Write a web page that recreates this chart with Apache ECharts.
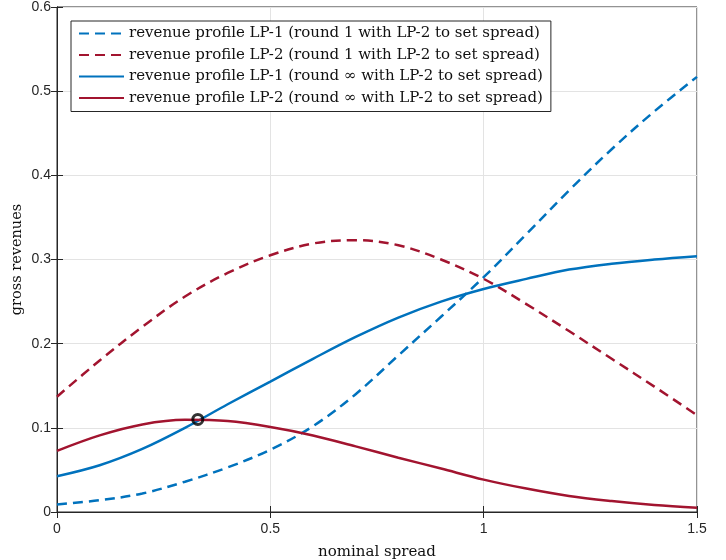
<!DOCTYPE html>
<html>
<head>
<meta charset="utf-8">
<script src="https://cdn.jsdelivr.net/npm/echarts@6/dist/echarts.min.js"></script>
<style>html,body{margin:0;padding:0;background:#fff}#c{width:726px;height:560px}</style>
</head>
<body>
<div id="c"></div>
<script>
var spread = [0, 0.1, 0.2, 0.3, 0.4, 0.5, 0.6, 0.7, 0.8, 0.9, 1.0, 1.1, 1.2, 1.3, 1.4, 1.5];
var lp1Round1 = [0.009, 0.014, 0.022, 0.036, 0.053, 0.074, 0.102, 0.140, 0.186, 0.232, 0.279, 0.330, 0.382, 0.431, 0.476, 0.517];
var lp2Round1 = [0.137, 0.180, 0.220, 0.256, 0.284, 0.305, 0.319, 0.323, 0.317, 0.300, 0.277, 0.247, 0.215, 0.182, 0.149, 0.115];
var lp1RoundInf = [0.0425, 0.0556, 0.075, 0.100, 0.128, 0.155, 0.182, 0.208, 0.231, 0.250, 0.265, 0.277, 0.288, 0.295, 0.300, 0.304];
var lp2RoundInf = [0.0726, 0.091, 0.104, 0.1095, 0.108, 0.101, 0.091, 0.078, 0.0645, 0.0516, 0.0385, 0.0278, 0.019, 0.013, 0.0083, 0.005];
var equilibrium = [0.33, 0.11];
var names = [
  'revenue profile LP-1 (round 1 with LP-2 to set spread)',
  'revenue profile LP-2 (round 1 with LP-2 to set spread)',
  'revenue profile LP-1 (round \u221E with LP-2 to set spread)',
  'revenue profile LP-2 (round \u221E with LP-2 to set spread)'
];
var xTicks = [0, 0.5, 1, 1.5];
var yTicks = [0, 0.1, 0.2, 0.3, 0.4, 0.5, 0.6];

function pairs(ys) { return spread.map(function (x, i) { return [x, ys[i]]; }); }

var BLUE = '#0072BD', RED = '#A2142F', AX = '#262626';
var serif = 'DejaVu Serif';
var sans = 'Liberation Sans';

function lineSeries(name, ys, color, dashed) {
  return {
    name: name, type: 'line', data: pairs(ys), smooth: 0.35, symbol: 'none',
    xAxisIndex: 0, yAxisIndex: 0,
    lineStyle: { color: color, width: 2.5, type: dashed ? [10, 6] : 'solid' },
    itemStyle: { color: color }, z: 3
  };
}

var chart = echarts.init(document.getElementById('c'), null, { renderer: 'canvas' });
chart.setOption({
  animation: false,
  backgroundColor: '#fff',
  grid: { left: 57, right: 29, top: 7, bottom: 48, show: true, borderColor: AX, borderWidth: 1, outerBoundsMode: 'none' },
  legend: {
    data: names, orient: 'vertical', left: 71, top: 21,
    itemWidth: 45, itemHeight: 14, itemGap: 6.5,
    padding: [5, 8, 6, 7],
    itemStyle: { opacity: 0 },
    backgroundColor: '#fff', borderColor: AX, borderWidth: 1,
    textStyle: { fontFamily: serif, fontSize: 15, color: '#111' },
    z: 10
  },
  xAxis: [{
    type: 'value', min: 0, max: 1.5, interval: 0.5,
    name: 'nominal spread', nameLocation: 'middle', nameGap: 33,
    nameTextStyle: { fontFamily: serif, fontSize: 15, color: '#111' },
    axisLine: { show: true, onZero: false, lineStyle: { color: AX, width: 1 } },
    axisTick: { show: true, inside: true, length: 6, lineStyle: { color: AX } },
    axisLabel: { fontFamily: sans, fontSize: 14, color: AX, margin: 10,
      formatter: function (v) { return xTicks.indexOf(v) >= 0 ? String(v) : ''; } },
    splitLine: { show: true, lineStyle: { color: '#e3e3e3', width: 1 } }
  }, {
    type: 'value', min: 0, max: 1.5, interval: 0.5, position: 'top',
    axisLine: { show: true, lineStyle: { color: AX, width: 1 } },
    axisTick: { show: true, inside: true, length: 6, lineStyle: { color: AX } },
    axisLabel: { show: false }, splitLine: { show: false }
  }],
  yAxis: [{
    type: 'value', min: 0, max: 0.6, interval: 0.1,
    name: 'gross revenues', nameLocation: 'middle', nameGap: 32, nameMoveOverlap: false,
    nameTextStyle: { fontFamily: serif, fontSize: 14.5, color: '#111' },
    axisLine: { show: true, onZero: false, lineStyle: { color: AX, width: 1 } },
    axisTick: { show: true, inside: true, length: 6, lineStyle: { color: AX } },
    axisLabel: { fontFamily: sans, fontSize: 14, color: AX, margin: 6,
      formatter: function (v) { var r = Math.round(v * 10) / 10; return yTicks.indexOf(r) >= 0 ? String(r) : ''; } },
    splitLine: { show: true, lineStyle: { color: '#e3e3e3', width: 1 } }
  }, {
    type: 'value', min: 0, max: 0.6, interval: 0.1, position: 'right',
    axisLine: { show: true, lineStyle: { color: AX, width: 1 } },
    axisTick: { show: true, inside: true, length: 6, lineStyle: { color: AX } },
    axisLabel: { show: false }, splitLine: { show: false }
  }],
  series: [
    lineSeries(names[0], lp1Round1, BLUE, true),
    lineSeries(names[1], lp2Round1, RED, true),
    lineSeries(names[2], lp1RoundInf, BLUE, false),
    lineSeries(names[3], lp2RoundInf, RED, false),
    {
      name: 'equilibrium', type: 'scatter', data: [equilibrium],
      symbol: 'circle', symbolSize: 10,
      itemStyle: { color: 'rgba(0,0,0,0)', borderColor: '#000', borderWidth: 3 },
      z: 5
    }
  ]
});
</script>
</body>
</html>
